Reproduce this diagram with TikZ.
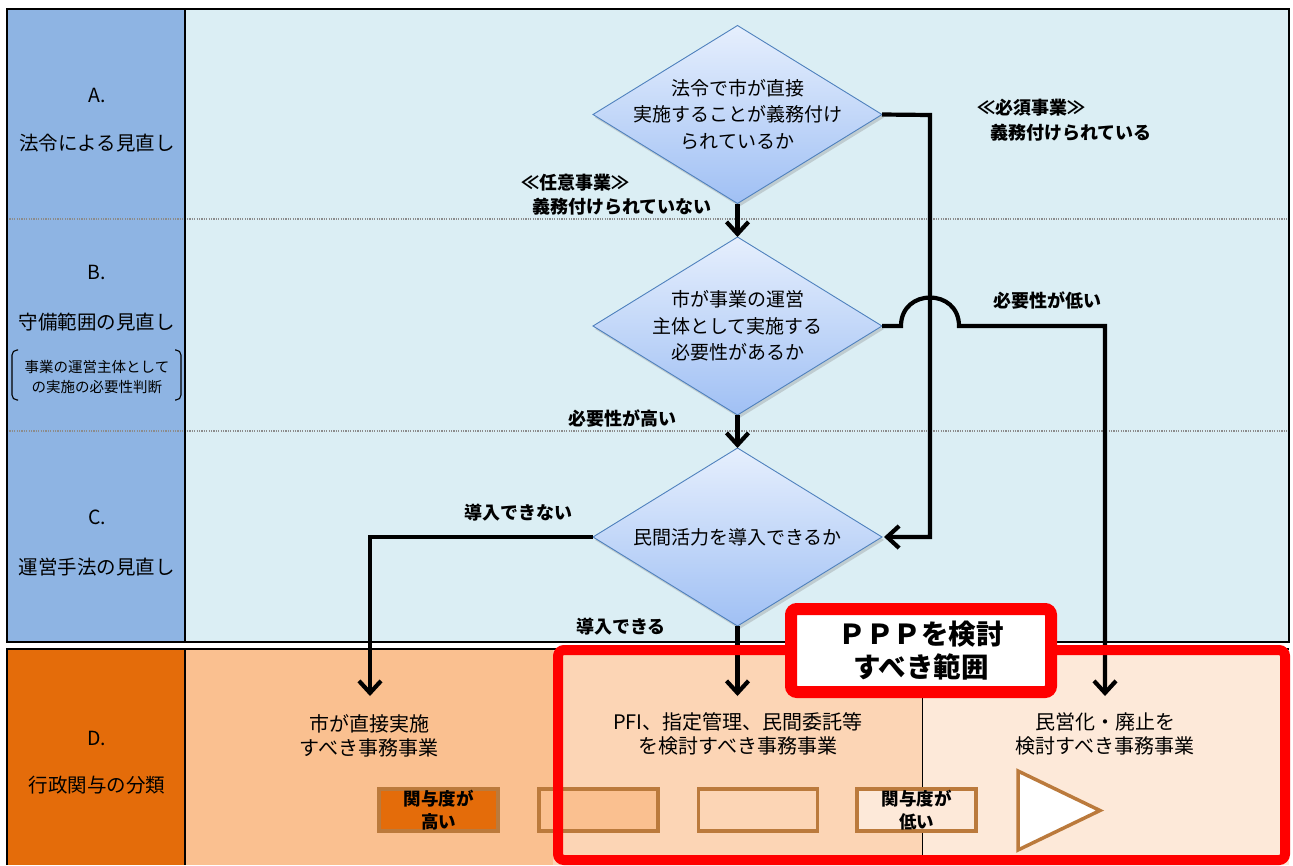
\documentclass[tikz,border=0pt]{standalone}
\usepackage{fontspec}
\setmainfont{Noto Sans CJK JP}
\usetikzlibrary{shapes.geometric,arrows.meta,shadows,calc}
\definecolor{colblue}{RGB}{142,180,227}
\definecolor{mainblue}{RGB}{219,238,244}
\definecolor{dorange}{RGB}{228,108,10}
\definecolor{lorange}{RGB}{250,192,144}
\definecolor{porange}{RGB}{252,213,181}
\definecolor{rorange}{RGB}{253,233,217}
\definecolor{brownb}{RGB}{187,122,60}
\definecolor{diatop}{RGB}{230,239,253}
\definecolor{diabot}{RGB}{160,192,244}
\definecolor{diaedge}{RGB}{79,129,189}
\definecolor{pppred}{RGB}{255,0,0}
\definecolor{sepgray}{RGB}{140,140,140}
\begin{document}
\begin{tikzpicture}[x=1pt,y=-1pt,
  dia/.style={diamond, minimum width=289, minimum height=178, inner sep=0, outer sep=0,
    draw=diaedge, line width=0.9, top color=diatop, bottom color=diabot,
    drop shadow={opacity=0.3, shadow xshift=2pt, shadow yshift=-3pt}},
  diatext/.style={align=center, font=\fontsize{19}{26.5}\selectfont, inner sep=0},
  conn/.style={line width=4.2, -{Straight Barb[length=12pt,width=22pt]}},
  lab/.style={font=\bfseries\fontsize{18}{22}\selectfont, inner sep=0},
  coltext/.style={font=\fontsize{19.5}{24}\selectfont, inner sep=0},
  smalltext/.style={font=\fontsize{14.5}{20}\selectfont, inner sep=0, align=center},
  bottext/.style={font=\fontsize{20}{24}\selectfont, inner sep=0, align=center},
  degbox/.style={draw=brownb, line width=3.5, minimum width=119, minimum height=42,
    inner sep=0, align=center, font=\bfseries\fontsize{17.5}{23}\selectfont},
  sep/.style={sepgray, line width=1.6, dash pattern=on 1.2pt off 1.2pt},
  frame/.style={black, line width=2}
]
\useasboundingbox (0,0) rectangle (1293,865);
\fill[white] (0,0) rectangle (1293,865);

% ---------- top section ----------
\fill[mainblue] (7,9) rectangle (1289,642);
\fill[colblue] (7,9) rectangle (185,642);
\draw[sep] (7,219) -- (1289,219);
\draw[sep] (7,431) -- (1289,431);
\draw[frame] (7,9) rectangle (1289,642);
\draw[frame] (185,9) -- (185,642);

% ---------- bottom section ----------
\fill[lorange] (7,649) rectangle (1289,865);
\fill[dorange] (7,649) rectangle (185,865);
\fill[porange] (553,649) rectangle (922,865);
\fill[rorange] (922,649) rectangle (1289,865);
\draw[black, line width=0.9] (922,649) -- (922,865);
\draw[frame] (7,865) -- (7,649) -- (1289,649);
\draw[frame] (185,649) -- (185,865);

% ---------- left column labels ----------
\node[coltext] (la) at (97,95) {A.};
\node[coltext] (lat) at (97,143) {法令による見直し};
\node[coltext] (lb) at (97,272) {B.};
\node[coltext] (lbt) at (97,322) {守備範囲の見直し};
\node[smalltext] (lbs) at (97,377) {事業の運営主体として\\の実施の必要性判断};
\draw[black, line width=1.1, rounded corners=5] (18,350) -- (12,350) -- (12,400) -- (18,400);
\draw[black, line width=1.1, rounded corners=5] (175,350) -- (181,350) -- (181,400) -- (175,400);
\node[coltext] (lc) at (97,517) {C.};
\node[coltext] (lct) at (97,567) {運営手法の見直し};
\node[coltext] (ld) at (97,738) {D.};
\node[coltext] (ldt) at (97,785) {行政関与の分類};

% ---------- diamonds ----------
\node[dia] (d1) at (737.5,114.5) {};
\node[diatext] (d1t) at (d1) {法令で市が直接\\実施することが義務付け\\られているか};
\node[dia] (d2) at (737.5,326) {};
\node[diatext] (d2t) at (d2) {市が事業の運営\\主体として実施する\\必要性があるか};
\node[dia] (d3) at (737.5,537) {};
\node[diatext] (d3t) at (d3) {民間活力を導入できるか};

% ---------- targets ----------
\coordinate (jx) at (930,115);
\coordinate (j1) at (901,326);
\coordinate (j2) at (959,326);
\coordinate (t1) at (370,696);
\coordinate (t2) at (737.5,696);
\coordinate (t3) at (1105,696);

% ---------- connectors ----------
\draw[conn] (d1.south) -- (d2.north);
\draw[conn] (d2.south) -- (d3.north);
\draw[conn, shorten >=2pt] (d1.east) -- (jx) |- (d3.east);
\draw[conn] (d2.east) -- (j1) .. controls ($(j1)+(0,-38)$) and ($(j2)+(0,-38)$) .. (j2) -| (t3);
\draw[conn] (d3.west) -| (t1);
\draw[conn] (d3.south) -- (t2);

% ---------- connector labels ----------
\node[lab] (l1) at (575,183) {≪任意事業≫};
\node[lab] (l2) at (622,207) {義務付けられていない};
\node[lab] (l3) at (1031,108) {≪必須事業≫};
\node[lab] (l4) at (1071,133) {義務付けられている};
\node[lab] (l5) at (1047,301) {必要性が低い};
\node[lab] (l6) at (622,418) {必要性が高い};
\node[lab] (l7) at (518,513) {導入できない};
\node[lab] (l8) at (621,627) {導入できる};

% ---------- bottom texts ----------
\node[bottext] (b1) at (369,736) {市が直接実施\\すべき事務事業};
\node[bottext] (b2) at (738,734) {PFI、指定管理、民間委託等\\を検討すべき事務事業};
\node[bottext] (b3) at (1105,734) {民営化・廃止を\\検討すべき事務事業};

% ---------- degree boxes ----------
\node[degbox, fill=dorange] (g1) at (438.5,810) {関与度が\\高い};
\node[degbox, fill=lorange] (g2) at (598.5,810) {};
\node[degbox, fill=porange] (g3) at (758,810) {};
\node[degbox, fill=rorange] (g4) at (916.5,810) {関与度が\\低い};
\draw[brownb, line width=3.5, fill=white, line join=miter] (1018,771) -- (1018,850) -- (1100,810.5) -- cycle;

% ---------- PPP range ----------
\draw[pppred, line width=10, rounded corners=6] (558,650) rectangle (1285,860);
\node[draw=pppred, line width=12, fill=white, rounded corners=6, minimum width=260,
  minimum height=83, inner sep=0, align=center,
  font=\bfseries\fontsize{27.5}{33}\selectfont] (ppp) at (921,650.5) {ＰＰＰを検討\\すべき範囲};
\end{tikzpicture}
\end{document}
